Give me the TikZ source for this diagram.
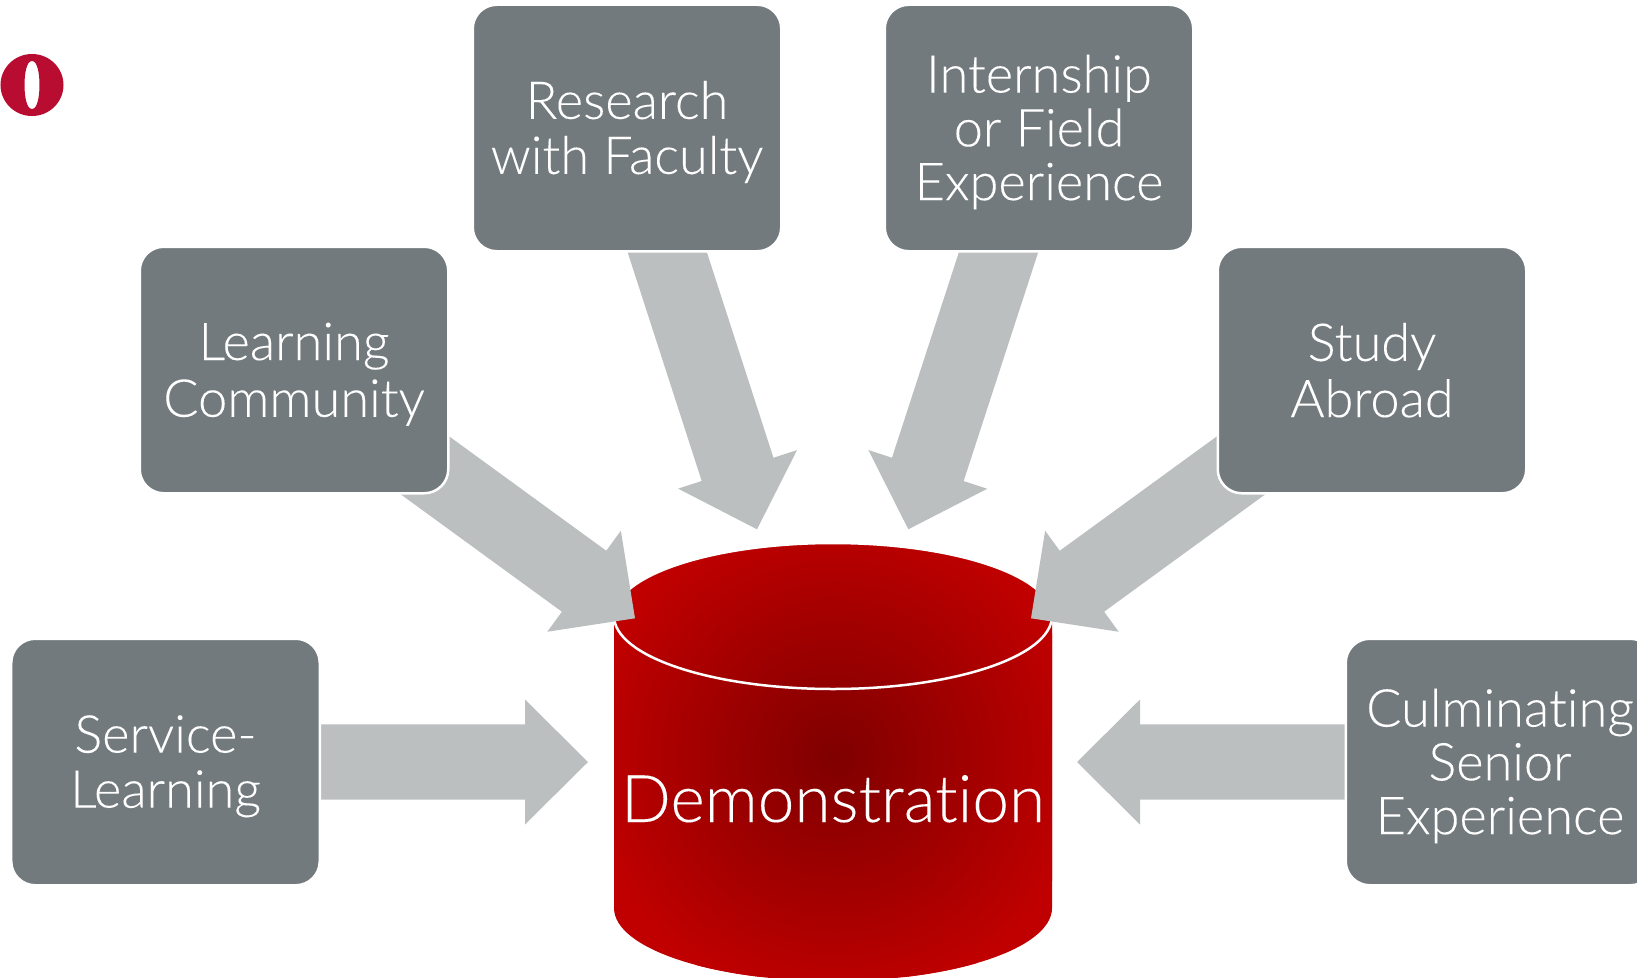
\documentclass[tikz,border=0pt]{standalone}
\usepackage{fontspec}
\setmainfont[UprightFont={* Light},RawFeature={-liga},FakeBold=0.12]{Lato}
\usetikzlibrary{calc}
\definecolor{boxgrey}{HTML}{737A7D}
\definecolor{arrowgrey}{HTML}{BBBFC0}
\definecolor{logored}{HTML}{B80D30}
\definecolor{cyldark}{HTML}{7F0000}
\definecolor{cyllight}{HTML}{C00000}
\pgfdeclareradialshading{cylshade}{\pgfpoint{0bp}{0bp}}{color(0bp)=(cyldark); color(25bp)=(cyllight); color(50bp)=(cyllight)}
\newcommand\ls{\rule[-8bp]{0pt}{54bp}}
\tikzset{
  tile/.style={fill=boxgrey,draw=white,line width=2.5bp,rounded corners=24bp,minimum width=308.5bp,minimum height=246.5bp,inner sep=0pt,
    text=white,align=center,font=\fontsize{52.5}{54}\selectfont},
  blockfill/.style={fill=arrowgrey},
  cyllabel/.style={text=white,font=\fontsize{66}{70}\selectfont,inner sep=0pt,anchor=base}
}
\newcommand\blockarrow[2]{%
  \fill[blockfill] ($(#1)!37.7bp!90:(#2)$)
    -- ($($(#2)!63bp!(#1)$)!37.7bp!90:(#2)$) -- ($($(#2)!63bp!(#1)$)!62.5bp!90:(#2)$)
    -- (#2)
    -- ($($(#2)!63bp!(#1)$)!62.5bp!-90:(#2)$) -- ($($(#2)!63bp!(#1)$)!37.7bp!-90:(#2)$)
    -- ($(#1)!37.7bp!-90:(#2)$) -- cycle;}
\begin{document}
\begin{tikzpicture}[x=1bp,y=-1bp]
\useasboundingbox (0,0) rectangle (1637,977);
\clip (0,0) rectangle (1637,977);
% logo
\fill[logored,even odd rule] (32,85) ellipse [x radius=31.5bp,y radius=31bp]
  (32,61) .. controls (37.5,61) and (39.5,74) .. (39.5,85) .. controls (39.5,96) and (37.5,109) .. (32,109)
  .. controls (26.5,109) and (24.5,96) .. (24.5,85) .. controls (24.5,74) and (26.5,61) .. (32,61) -- cycle;
% cylinder
\begin{scope}
  \clip (614,616) -- (614,908) arc[start angle=180,end angle=360,x radius=219bp,y radius=73bp] -- (1052,616) arc[start angle=0,end angle=180,x radius=219bp,y radius=73bp] -- cycle;
  \fill[cyllight] (600,530) rectangle (1060,977);
  \shade[shading=cylshade] (835,757) circle [radius=250bp];
\end{scope}
\draw[white,line width=2.5bp] (833,616) ellipse [x radius=219bp,y radius=73bp];
\node[cyllabel] (demo) at (833,822) {Demonstration};
% arrow tips
\coordinate (tipS) at (588,762);
\coordinate (tipC) at (1077,762);
\coordinate (tipL) at (635,618.3);
\coordinate (tipA) at (1031,618.3);
\coordinate (tipR) at (757,529.3);
\coordinate (tipI) at (908.3,529.3);
% box anchors
\coordinate (cS) at (165.5,762);
\coordinate (cC) at (1500,762);
\coordinate (cL) at (294,370);
\coordinate (cA) at (1372,370);
\coordinate (cR) at (627,128);
\coordinate (cI) at (1039,128);
\blockarrow{cS}{tipS}
\blockarrow{cC}{tipC}
\blockarrow{cL}{tipL}
\blockarrow{cA}{tipA}
\blockarrow{cR}{tipR}
\blockarrow{cI}{tipI}
% boxes
\node[tile] (service) at (cS) {\ls Service-\\Learning\ls};
\node[tile] (culm) at (cC) {\ls Culminating\\Senior\\Experience\ls};
\node[tile] (learn) at (cL) {\ls Learning\\Community\ls};
\node[tile] (abroad) at (cA) {\ls Study\\Abroad\ls};
\node[tile] (research) at (cR) {\ls Research\\with Faculty\ls};
\node[tile] (intern) at (cI) {\ls Internship\\or Field\\Experience\ls};
\end{tikzpicture}
\end{document}
